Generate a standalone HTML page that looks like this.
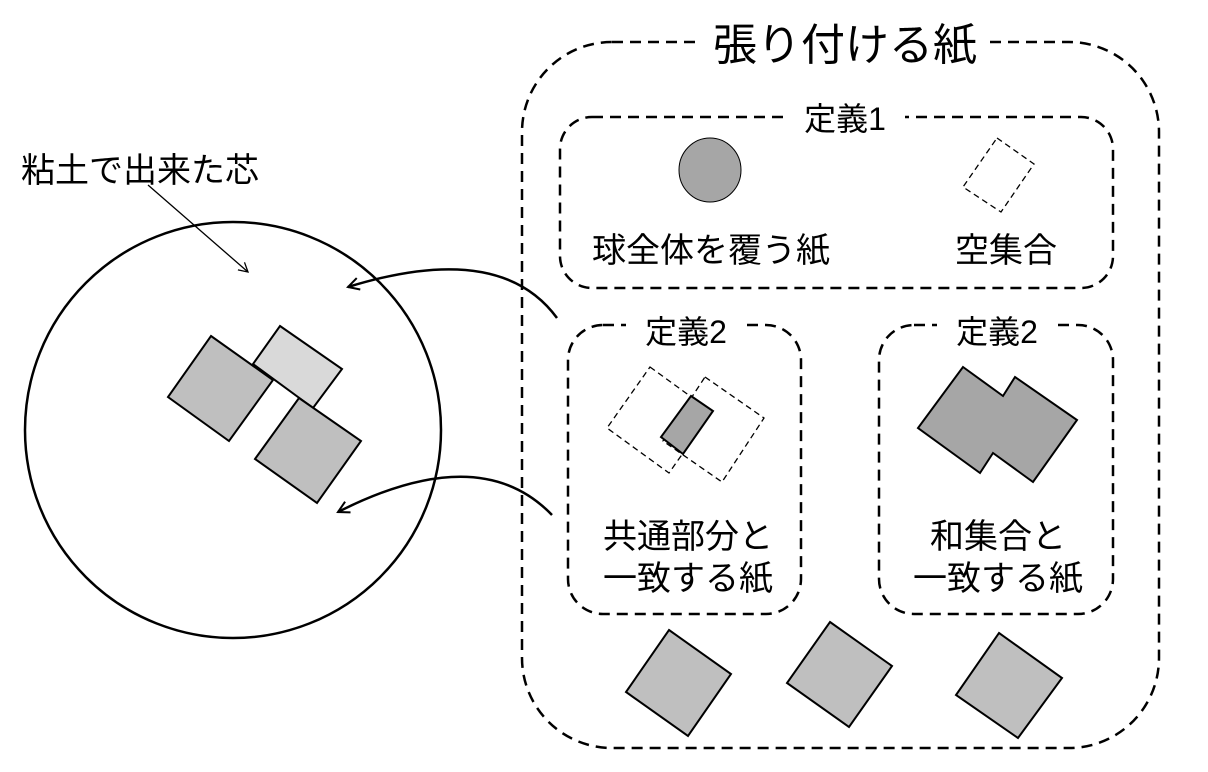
<!DOCTYPE html>
<html><head><meta charset="utf-8"><style>
html,body{margin:0;padding:0;background:#fff;}
svg{display:block;}
text{font-family:"Liberation Sans","Noto Sans CJK JP",sans-serif;fill:#000;}
</style></head><body>
<svg width="1208" height="772" viewBox="0 0 1208 772" xmlns="http://www.w3.org/2000/svg">
<defs>
<marker id="ah" markerWidth="14" markerHeight="14" refX="12" refY="7" orient="auto" markerUnits="userSpaceOnUse">
<path d="M1,1 L12,7 L1,13" fill="none" stroke="#000" stroke-width="2"/>
</marker>
<marker id="ah2" markerWidth="12" markerHeight="12" refX="10" refY="6" orient="auto" markerUnits="userSpaceOnUse">
<path d="M1,1 L10,6 L1,11" fill="none" stroke="#000" stroke-width="1.3"/>
</marker>
</defs>
<g fill="none" stroke="#000" stroke-width="2.5" stroke-dasharray="11,7">
<rect x="522" y="42" width="637" height="706" rx="90" ry="90"/>
<rect x="560" y="117" width="553" height="171" rx="32" ry="32"/>
<rect x="568" y="325" width="233" height="289" rx="35" ry="35"/>
<rect x="879" y="325" width="234" height="289" rx="35" ry="35"/>
</g>
<rect x="695" y="25" width="290" height="40" fill="#fff"/>
<rect x="785" y="100" width="120" height="34" fill="#fff"/>
<rect x="626" y="310" width="120" height="32" fill="#fff"/>
<rect x="937" y="310" width="120" height="32" fill="#fff"/>
<text x="845" y="60" font-size="44" text-anchor="middle">張り付ける紙</text>
<text x="845" y="130" font-size="32" text-anchor="middle">定義1</text>
<text x="686" y="343" font-size="32" text-anchor="middle">定義2</text>
<text x="997" y="343" font-size="32" text-anchor="middle">定義2</text>
<ellipse cx="710" cy="170" rx="31" ry="32" fill="#a6a6a6" stroke="#000" stroke-width="1"/>
<polygon points="997,138 1034,164 1001,212 963,187" fill="none" stroke="#000" stroke-width="1.3" stroke-dasharray="6,4"/>
<text x="711" y="262" font-size="34" text-anchor="middle">球全体を覆う紙</text>
<text x="1006" y="262" font-size="34" text-anchor="middle">空集合</text>
<polygon points="650,367 712,412 669,473 607,428" fill="none" stroke="#000" stroke-width="1.3" stroke-dasharray="6,4"/>
<polygon points="705,377 764,418 722,482 663,441" fill="none" stroke="#000" stroke-width="1.3" stroke-dasharray="6,4"/>
<polygon points="691,396 713,411 683,454 661,437" fill="#a6a6a6" stroke="#000" stroke-width="2"/>
<polygon points="963,367 1003,396 1015,377 1077,420 1033,482 993,453 980,473 918,428" fill="#a6a6a6" stroke="#000" stroke-width="2"/>
<text x="688" y="548" font-size="34" text-anchor="middle">共通部分と</text>
<text x="688" y="590" font-size="34" text-anchor="middle">一致する紙</text>
<text x="998" y="548" font-size="34" text-anchor="middle">和集合と</text>
<text x="998" y="590" font-size="34" text-anchor="middle">一致する紙</text>
<g fill="#bfbfbf" stroke="#000" stroke-width="2">
<polygon points="669,630 731,674 688,736 626,692"/>
<polygon points="830,622 892,666 849,727 787,683"/>
<polygon points="999,633 1062,678 1018,738 956,695"/>
</g>
<text x="21" y="182" font-size="34">粘土で出来た芯</text>
<line x1="148" y1="185" x2="248" y2="272" stroke="#000" stroke-width="1.3" marker-end="url(#ah2)"/>
<ellipse cx="233" cy="430" rx="208" ry="208" fill="none" stroke="#000" stroke-width="2.5"/>
<polygon points="280,326 342,369 313,408 253,364" fill="#d9d9d9" stroke="#000" stroke-width="2"/>
<polygon points="211,336 273,380 229,441 168,397" fill="#bfbfbf" stroke="#000" stroke-width="2"/>
<polygon points="299,398 361,441 317,503 255,459" fill="#bfbfbf" stroke="#000" stroke-width="2"/>
<path d="M557,318 Q500,240 348,287" fill="none" stroke="#000" stroke-width="2.5" marker-end="url(#ah)"/>
<path d="M552,515 Q480,440 338,512" fill="none" stroke="#000" stroke-width="2.5" marker-end="url(#ah)"/>
</svg>
</body></html>
